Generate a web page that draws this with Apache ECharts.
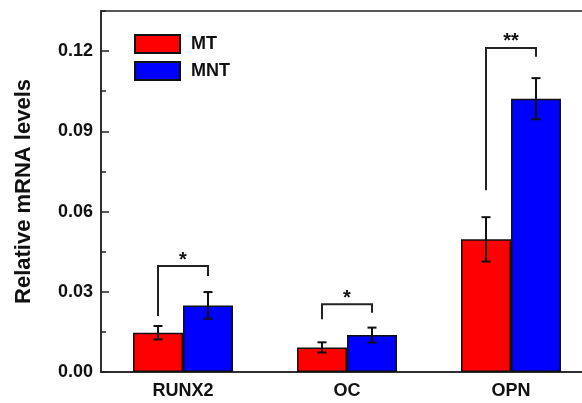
<!DOCTYPE html>
<html>
<head>
<meta charset="utf-8">
<script src="https://cdn.jsdelivr.net/npm/echarts@6/dist/echarts.min.js"></script>
<style>html,body{margin:0;padding:0;background:#fff;}#c{width:582px;height:403px;}</style>
</head>
<body>
<div id="c"></div>
<script>
const categories = ['RUNX2', 'OC', 'OPN'];
const mtValues = [0.0147, 0.0092, 0.0496];
const mtErrors = [0.0025, 0.0019, 0.0083];
const mntValues = [0.0249, 0.0138, 0.1022];
const mntErrors = [0.0050, 0.0028, 0.0077];
const bracketTops = [0.0396, 0.0253, 0.1212];
const bracketLeftEnds = [0.0209, 0.0197, 0.0680];
const bracketRightEnds = [0.0359, 0.0222, 0.1179];
const significance = ['*', '*', '**'];
const yTicks = [0, 0.03, 0.06, 0.09, 0.12];

const BAR_W = 50;
const FONT = '"Liberation Sans", Arial, sans-serif';

function errorRender(offset) {
  return function (params, api) {
    const i = api.value(0), v = api.value(1), e = api.value(2);
    const top = api.coord([i, v + e]);
    const bot = api.coord([i, v - e]);
    const x = top[0] + offset;
    const cw = 4.5;
    const style = { stroke: '#111', lineWidth: 2 };
    return {
      type: 'group',
      children: [
        { type: 'line', shape: { x1: x, y1: top[1], x2: x, y2: bot[1] }, style },
        { type: 'line', shape: { x1: x - cw, y1: top[1], x2: x + cw, y2: top[1] }, style },
        { type: 'line', shape: { x1: x - cw, y1: bot[1], x2: x + cw, y2: bot[1] }, style }
      ]
    };
  };
}

function bracketRender(params, api) {
  const i = api.value(0);
  const t = api.coord([i, api.value(1)]);
  const l = api.coord([i, api.value(2)]);
  const r = api.coord([i, api.value(3)]);
  const xl = t[0] - BAR_W / 2, xr = t[0] + BAR_W / 2;
  const style = { stroke: '#222', lineWidth: 2, fill: null };
  return {
    type: 'group',
    children: [
      { type: 'polyline', shape: { points: [[xl, l[1]], [xl, t[1]], [xr, t[1]], [xr, r[1]]] }, style },
      { type: 'text', style: { text: significance[params.dataIndex], x: t[0], y: t[1] - 6,
        textAlign: 'center', textVerticalAlign: 'middle', font: 'bold 20px ' + FONT, fill: '#111' } }
    ]
  };
}

const chart = echarts.init(document.getElementById('c'));
chart.setOption({
  backgroundColor: '#ffffff',
  animation: false,
  grid: { left: 101, top: 11, bottom: 31, width: 492, outerBoundsMode: 'none', containLabel: false,
    show: true, borderColor: '#222', borderWidth: 1.5, backgroundColor: 'transparent' },
  legend: {
    left: 129, top: 29, orient: 'vertical', itemWidth: 45, itemHeight: 18, itemGap: 7,
    icon: 'rect',
    data: ['MT', 'MNT'],
    textStyle: { fontFamily: FONT, fontWeight: 'bold', fontSize: 18, color: '#111', padding: [0, 0, 0, 6] }
  },
  xAxis: {
    type: 'category', data: categories,
    axisLine: { lineStyle: { color: '#222', width: 1.5 } },
    axisTick: { show: false },
    axisLabel: { fontFamily: FONT, fontWeight: 'bold', fontSize: 18, color: '#111', margin: 10 },
    splitLine: { show: false }
  },
  yAxis: [{
    type: 'value', min: 0, max: 0.135, interval: 0.03,
    name: 'Relative mRNA levels', nameLocation: 'middle', nameGap: 66,
    nameTextStyle: { fontFamily: FONT, fontWeight: 'bold', fontSize: 22, color: '#111' },
    axisLine: { show: true, lineStyle: { color: '#222', width: 1.5 } },
    axisTick: { show: true, inside: true, length: 8, lineStyle: { color: '#222', width: 1.5 } },
    axisLabel: { fontFamily: FONT, fontWeight: 'bold', fontSize: 18, color: '#111', margin: 8, showMaxLabel: false,
      formatter: function (v) { return yTicks.some(t => Math.abs(t - v) < 1e-9) ? v.toFixed(2) : ''; } },
    splitLine: { show: false }
  }, {
    type: 'value', min: 0, max: 0.135, interval: 0.015, position: 'left',
    axisLine: { show: false },
    axisTick: { show: true, inside: true, length: 5, lineStyle: { color: '#222', width: 1.5 } },
    axisLabel: { show: false },
    splitLine: { show: false }
  }],
  series: [
    { name: 'MT', type: 'bar', data: mtValues, barWidth: BAR_W, barGap: '0%',
      itemStyle: { color: '#ff0000', borderColor: '#111', borderWidth: 1.5 } },
    { name: 'MNT', type: 'bar', data: mntValues, barWidth: BAR_W, barGap: '0%',
      itemStyle: { color: '#0000ff', borderColor: '#111', borderWidth: 1.5 } },
    { type: 'custom', renderItem: errorRender(-BAR_W / 2), z: 5,
      data: mtValues.map((v, i) => [i, v, mtErrors[i]]) },
    { type: 'custom', renderItem: errorRender(BAR_W / 2), z: 5,
      data: mntValues.map((v, i) => [i, v, mntErrors[i]]) },
    { type: 'custom', renderItem: bracketRender, z: 5,
      data: categories.map((c, i) => [i, bracketTops[i], bracketLeftEnds[i], bracketRightEnds[i]]) }
  ]
});
</script>
</body>
</html>
